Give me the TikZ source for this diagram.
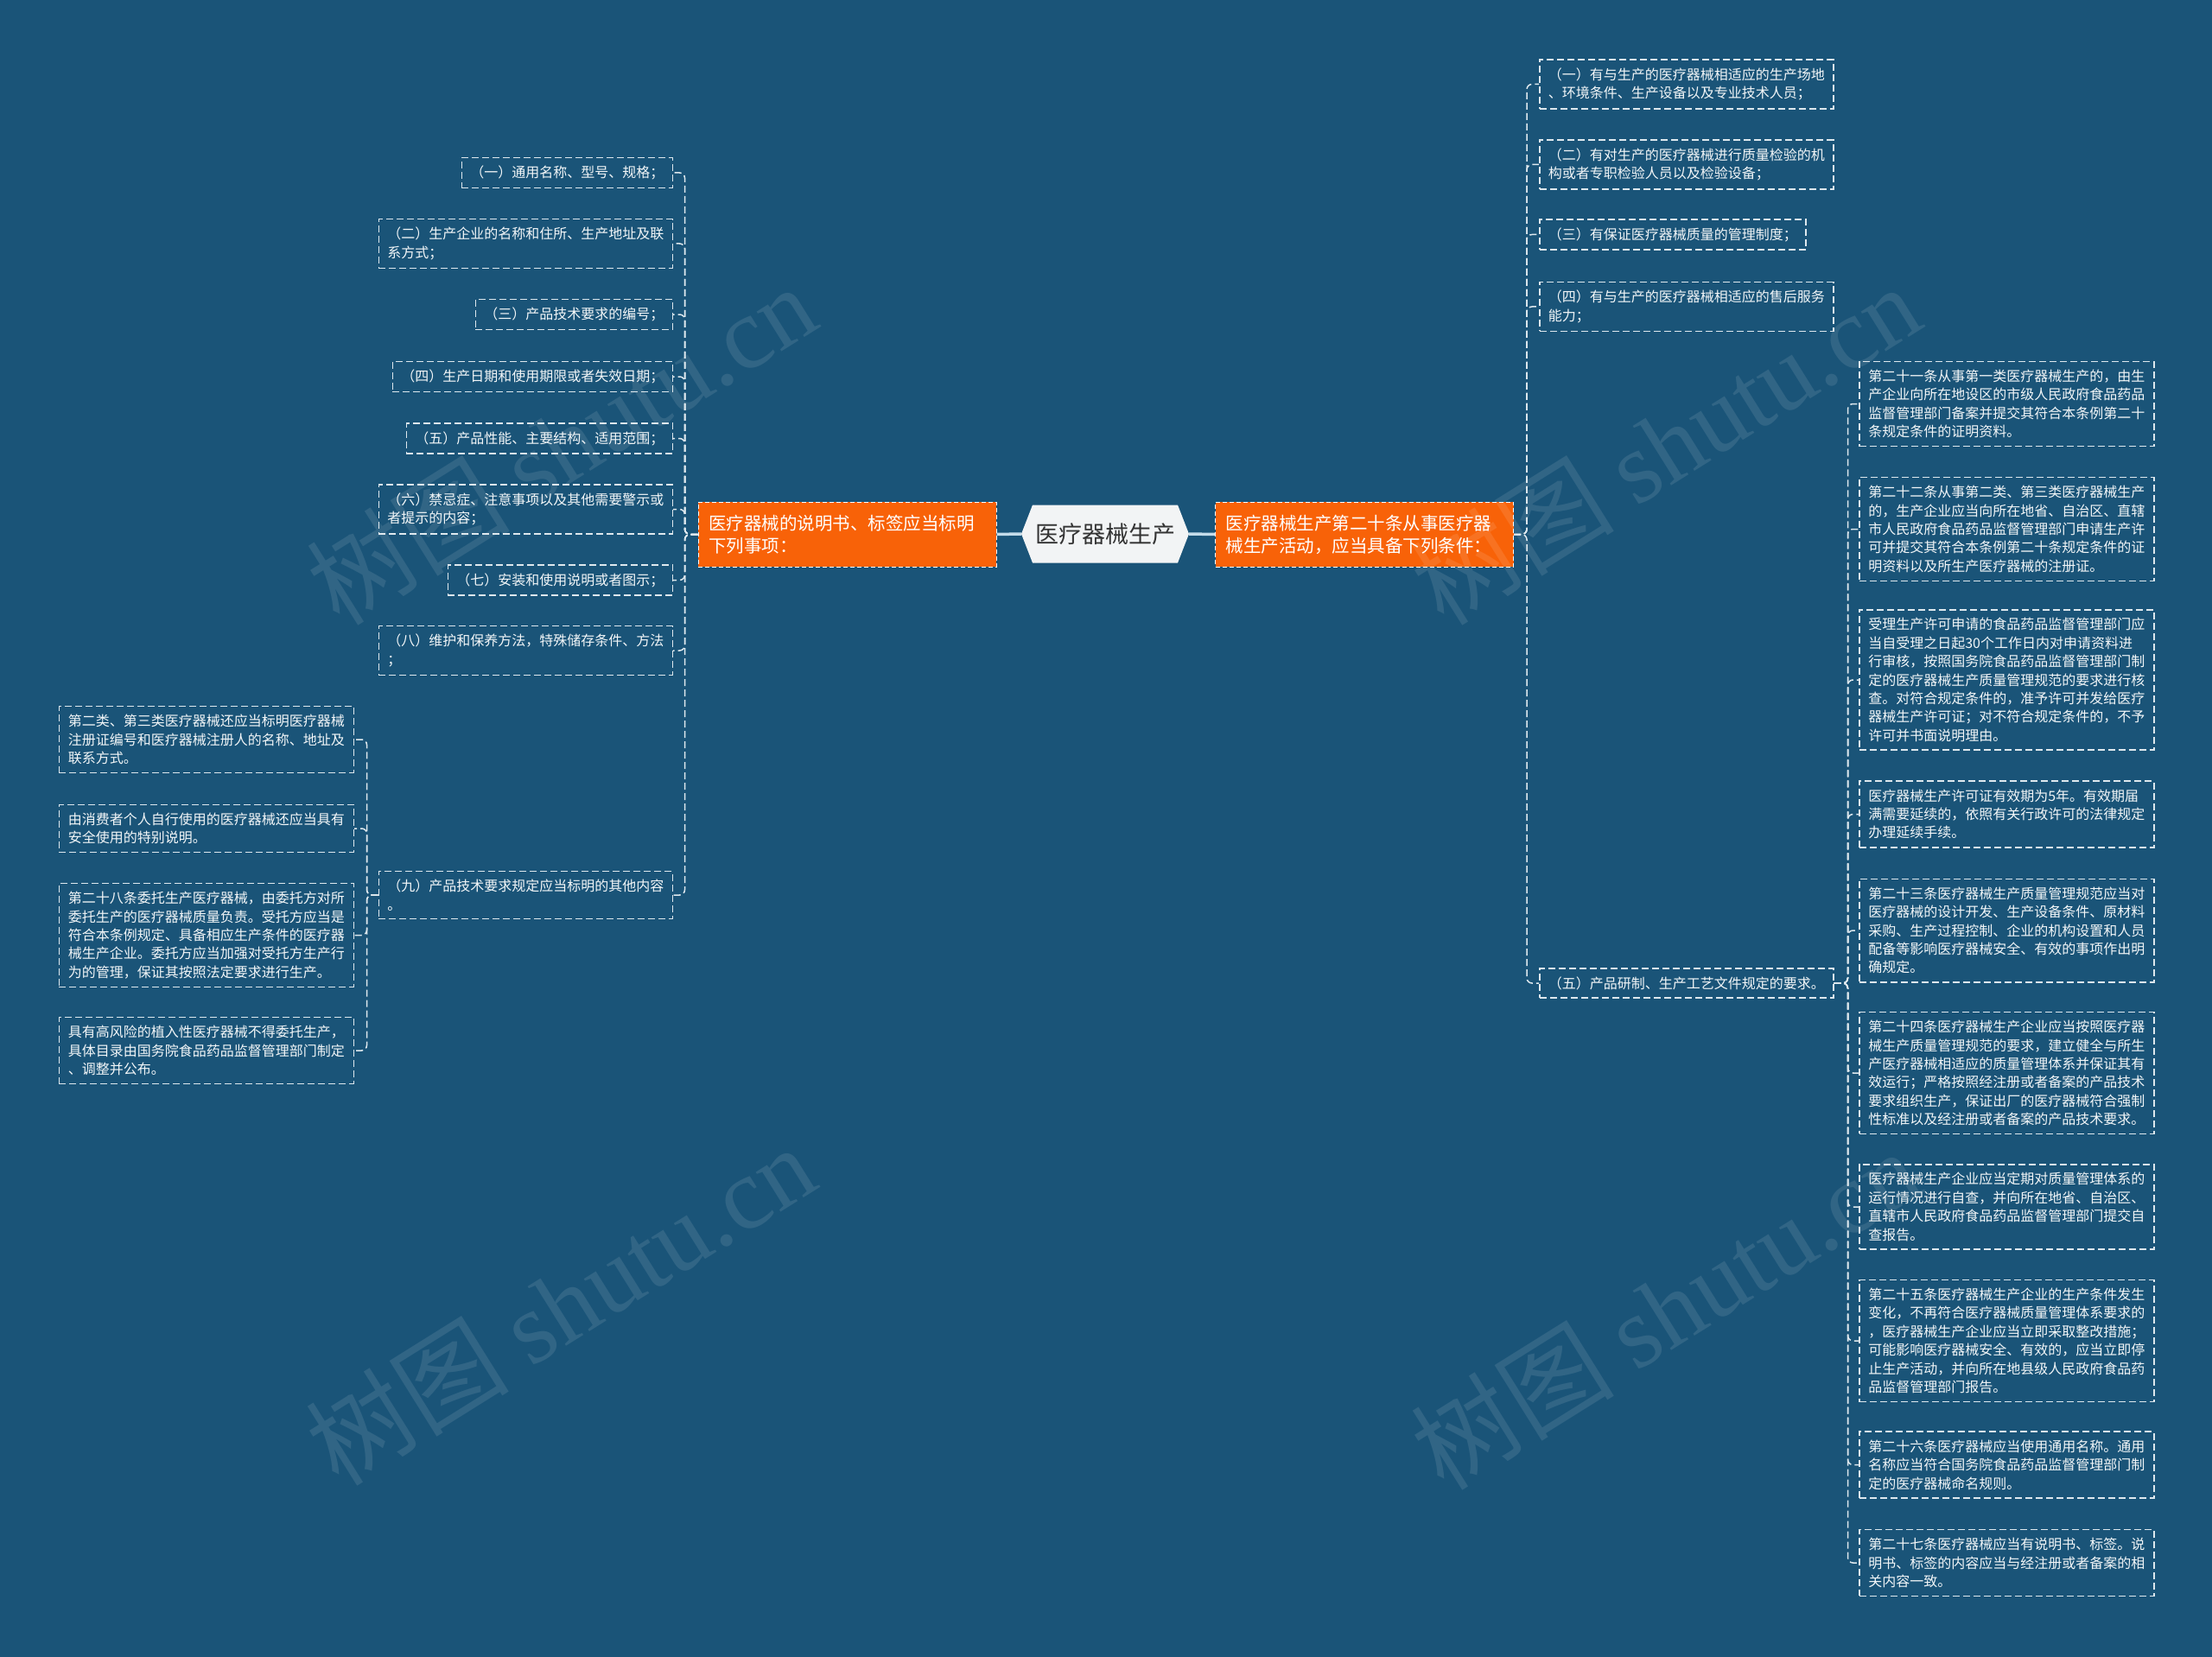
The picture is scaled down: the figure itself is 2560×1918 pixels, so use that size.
\documentclass[tikz,border=0pt]{standalone}
\usepackage{fontspec}
\setmainfont{Noto Sans CJK SC}
\newfontfamily\wmlatin{Liberation Serif}
\definecolor{bg}{RGB}{26,84,120}
\definecolor{orangebox}{RGB}{248,98,8}
\definecolor{linec}{RGB}{222,232,238}
\definecolor{txt}{RGB}{242,246,248}
\definecolor{rootfill}{RGB}{242,244,245}
\definecolor{roottxt}{RGB}{51,51,51}
\definecolor{rootline}{RGB}{196,220,234}
\tikzset{
  leaf/.style={draw=linec, dash pattern=on 8pt off 4pt, line width=1.5pt, text=txt,
    font=\fontsize{16}{21.4}\selectfont, inner xsep=10pt, inner ysep=9.5pt, align=left},
  wideleaf/.style={leaf, minimum width=341pt},
  mainbox/.style={fill=orangebox, draw=white, dash pattern=on 5pt off 3pt, line width=1pt,
    text=white, font=\fontsize{20.5}{26}\selectfont, minimum width=345pt, minimum height=75pt,
    text width=321pt, align=left, inner xsep=12pt},
  conn/.style={draw=linec, dash pattern=on 8pt off 4pt, line width=1.5pt, rounded corners=6pt},
  rootconn/.style={draw=rootline, line width=3.5pt},
  wm/.style={text=white, opacity=0.10, font=\fontsize{118}{120}\selectfont, rotate=32}
}
\begin{document}
\begin{tikzpicture}[x=1pt, y=-1pt]
\useasboundingbox[fill=bg] (0,0) rectangle (2560,1918);

% root hexagon
\fill[rootfill] (1182,618) -- (1195,584.5) -- (1363,584.5) -- (1376,618) -- (1363,651.5) -- (1195,651.5) -- cycle;
\node[minimum width=194pt, minimum height=67pt, inner sep=0pt, text=roottxt,
  font=\fontsize{27}{30}\selectfont] (root) at (1279,618) {医疗器械生产};

% main branches
\node[mainbox] (L) at (980.5,618.5) {医疗器械的说明书、标签应当标明\\下列事项：};
\node[mainbox] (R) at (1579,618.5) {医疗器械生产第二十条从事医疗器\\械生产活动，应当具备下列条件：};

\draw[rootconn] (L.east) -- (root.west);
\draw[rootconn] (root.east) -- (R.west);

% left children
\node[leaf, anchor=east] (n1) at (779,200) {（一）通用名称、型号、规格；};
\node[leaf, anchor=east] (n2) at (779,282) {（二）生产企业的名称和住所、生产地址及联\\系方式；};
\node[leaf, anchor=east] (n3) at (779,364) {（三）产品技术要求的编号；};
\node[leaf, anchor=east] (n4) at (779,436) {（四）生产日期和使用期限或者失效日期；};
\node[leaf, anchor=east] (n5) at (779,507.5) {（五）产品性能、主要结构、适用范围；};
\node[leaf, anchor=east] (n6) at (779,589.5) {（六）禁忌症、注意事项以及其他需要警示或\\者提示的内容；};
\node[leaf, anchor=east] (n7) at (779,671.5) {（七）安装和使用说明或者图示；};
\node[leaf, anchor=east] (n8) at (779,753) {（八）维护和保养方法，特殊储存条件、方法\\；};
\node[leaf, anchor=east] (n9) at (779,1036) {（九）产品技术要求规定应当标明的其他内容\\。};

\foreach \c in {n1,n2,n3,n4,n5,n6,n7,n8,n9}
  \draw[conn] (L.west) -- ++(-15,0) |- (\c.east);

% children of (九)
\node[wideleaf, anchor=east] (a1) at (410,856) {第二类、第三类医疗器械还应当标明医疗器械\\注册证编号和医疗器械注册人的名称、地址及\\联系方式。};
\node[wideleaf, anchor=east] (a2) at (410,959) {由消费者个人自行使用的医疗器械还应当具有\\安全使用的特别说明。};
\node[wideleaf, anchor=east] (a3) at (410,1082.5) {第二十八条委托生产医疗器械，由委托方对所\\委托生产的医疗器械质量负责。受托方应当是\\符合本条例规定、具备相应生产条件的医疗器\\械生产企业。委托方应当加强对受托方生产行\\为的管理，保证其按照法定要求进行生产。};
\node[wideleaf, anchor=east] (a4) at (410,1216) {具有高风险的植入性医疗器械不得委托生产，\\具体目录由国务院食品药品监督管理部门制定\\、调整并公布。};

\foreach \c in {a1,a2,a3,a4}
  \draw[conn] (n9.west) -- ++(-13,0) |- (\c.east);

% right children
\node[leaf, anchor=west] (r1) at (1781,97.5) {（一）有与生产的医疗器械相适应的生产场地\\、环境条件、生产设备以及专业技术人员；};
\node[leaf, anchor=west] (r2) at (1781,190.5) {（二）有对生产的医疗器械进行质量检验的机\\构或者专职检验人员以及检验设备；};
\node[leaf, anchor=west] (r3) at (1781,271.5) {（三）有保证医疗器械质量的管理制度；};
\node[leaf, anchor=west] (r4) at (1781,355) {（四）有与生产的医疗器械相适应的售后服务\\能力；};
\node[leaf, anchor=west] (r5) at (1781,1138) {（五）产品研制、生产工艺文件规定的要求。};

\foreach \c in {r1,r2,r3,r4,r5}
  \draw[conn] (R.east) -- ++(15,0) |- (\c.west);

% children of right (五)
\node[wideleaf, anchor=west] (c1) at (2151,467.5) {第二十一条从事第一类医疗器械生产的，由生\\产企业向所在地设区的市级人民政府食品药品\\监督管理部门备案并提交其符合本条例第二十\\条规定条件的证明资料。};
\node[wideleaf, anchor=west] (c2) at (2151,612.5) {第二十二条从事第二类、第三类医疗器械生产\\的，生产企业应当向所在地省、自治区、直辖\\市人民政府食品药品监督管理部门申请生产许\\可并提交其符合本条例第二十条规定条件的证\\明资料以及所生产医疗器械的注册证。};
\node[wideleaf, anchor=west] (c3) at (2151,787) {受理生产许可申请的食品药品监督管理部门应\\当自受理之日起30个工作日内对申请资料进\\行审核，按照国务院食品药品监督管理部门制\\定的医疗器械生产质量管理规范的要求进行核\\查。对符合规定条件的，准予许可并发给医疗\\器械生产许可证；对不符合规定条件的，不予\\许可并书面说明理由。};
\node[wideleaf, anchor=west] (c4) at (2151,942.5) {医疗器械生产许可证有效期为5年。有效期届\\满需要延续的，依照有关行政许可的法律规定\\办理延续手续。};
\node[wideleaf, anchor=west] (c5) at (2151,1077) {第二十三条医疗器械生产质量管理规范应当对\\医疗器械的设计开发、生产设备条件、原材料\\采购、生产过程控制、企业的机构设置和人员\\配备等影响医疗器械安全、有效的事项作出明\\确规定。};
\node[wideleaf, anchor=west] (c6) at (2151,1242) {第二十四条医疗器械生产企业应当按照医疗器\\械生产质量管理规范的要求，建立健全与所生\\产医疗器械相适应的质量管理体系并保证其有\\效运行；严格按照经注册或者备案的产品技术\\要求组织生产，保证出厂的医疗器械符合强制\\性标准以及经注册或者备案的产品技术要求。};
\node[wideleaf, anchor=west] (c7) at (2151,1397) {医疗器械生产企业应当定期对质量管理体系的\\运行情况进行自查，并向所在地省、自治区、\\直辖市人民政府食品药品监督管理部门提交自\\查报告。};
\node[wideleaf, anchor=west] (c8) at (2151,1552) {第二十五条医疗器械生产企业的生产条件发生\\变化，不再符合医疗器械质量管理体系要求的\\，医疗器械生产企业应当立即采取整改措施；\\可能影响医疗器械安全、有效的，应当立即停\\止生产活动，并向所在地县级人民政府食品药\\品监督管理部门报告。};
\node[wideleaf, anchor=west] (c9) at (2151,1695.5) {第二十六条医疗器械应当使用通用名称。通用\\名称应当符合国务院食品药品监督管理部门制\\定的医疗器械命名规则。};
\node[wideleaf, anchor=west] (c10) at (2151,1809) {第二十七条医疗器械应当有说明书、标签。说\\明书、标签的内容应当与经注册或者备案的相\\关内容一致。};

\foreach \c in {c1,c2,c3,c4,c5,c6,c7,c8,c9,c10}
  \draw[conn] (r5.east) -- ++(16,0) |- (\c.west);

% watermarks
\node[wm] (wm1) at (649,514) {树图 {\wmlatin shutu.cn}};
\node[wm] (wm2) at (1927,514) {树图 {\wmlatin shutu.cn}};
\node[wm] (wm3) at (648,1510) {树图 {\wmlatin shutu.cn}};
\node[wm] (wm4) at (1927,1515) {树图 {\wmlatin shutu.cn}};
\end{tikzpicture}
\end{document}
